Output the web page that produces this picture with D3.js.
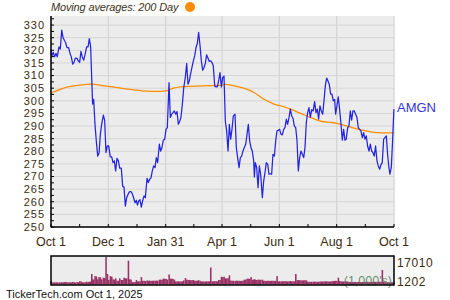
<!DOCTYPE html>
<html><head><meta charset="utf-8">
<script src="https://cdn.jsdelivr.net/npm/d3@7"></script>
<style>body{margin:0;background:#fff}svg{display:block}text{font-family:"Liberation Sans",Arial,sans-serif}</style>
</head><body><svg id="c" width="450" height="300"></svg>
<script>
// Days since Oct 1, 2024
const days = [0,1,2.5,3.9,5.3,6.7,8.5,9.9,11.4,12.8,14.2,15.6,17,18.8,20.2,21.6,23.1,24.5,25.9,27.7,29.1,30.5,31.9,33.3,34.8,36.2,37.9,39.4,40.8,42.2,43.3,44.3,45.4,46.8,48.2,49.7,51.1,52.5,53.9,55.7,57.1,58.5,60,61.4,63.1,64.6,66,67.4,68.8,70.2,71.7,73.1,74.8,76.3,77.7,79.1,80.5,82.3,83.7,85.1,86.5,87.9,89.4,90.8,92,93.3,94.7,96.1,97.5,99,100.4,102.2,103.6,105,106.4,107.8,109.2,110.7,112.1,113.5,115.3,116.7,118.1,119.5,121,122.4,123.8,125.6,127,128.4,129.8,131.2,132.7,134.1,135.5,136.9,138.3,139.8,141.2,143,144.4,145.8,147.2,148.6,150,151.5,152.9,154.3,155.7,157.1,158.6,160,161.4,162.8,164.2,165.6,167.1,168.5,169.9,171.3,172.7,174.2,175.6,177,178.4,179.8,181.3,182.7,184.1,185.5,186.9,188.4,189.8,191.2,192.6,194,195.8,197.2,198.6,200.1,201.5,202.9,204.3,205.7,207.2,208.6,210,211.4,212.8,214.2,215.7,216.4,217.4,218.9,220.3,221.7,223.1,224.9,226.3,227.7,229.1,230.6,232,233.4,234.8,236.2,237.7,239.1,240.5,241.9,243.3,244.8,246.2,247.6,249,250.4,251.8,253.3,254.7,256.1,257.5,258.9,260.4,261.8,263.2,264.6,266,267.5,268.9,270.3,271.7,273.1,274.5,276,277.4,279.1,280.5,282,283.4,284.8,286.2,287.6,289.1,290.5,291.9,293.3,294.7,296.1,297.6,299,300.4,301.8,302.9,304.3,305.7,307.1,308.6,310,311.4,312.8,314.2,315.7,317.1,318.5,319.9,321.3,322.7,324.2,325.6,327,328.4,329.8,331.3,332.7,334.1,335.5,336.9,338.4,339.8,341.2,342.6,344,345.4,346.9,348.3,349.7,351.1,352.5,354,355.4,356.8,358.2,359.6,360.7,362.1,363.5,364.9];
const prices = [320.1,317.8,319.2,317.4,318.8,317.4,321.4,320.5,328,325.1,324,323,321.1,321.1,318.8,317.4,314.5,315.2,316.9,316.8,315.8,315.2,319.6,317.4,316.1,318.2,321.4,321.4,324.6,321.4,309.2,298.7,300.6,290.7,284.1,278.1,279.1,286.7,290.7,294.3,292.3,279.5,282.1,282.1,277.8,277.8,275.5,276.2,272.2,277.2,276.2,273.3,273.3,266.1,265.8,258.3,261.6,263.2,264,264,263.2,261.6,259.6,260.6,258.7,260.3,260.8,257.9,260.3,262.3,261.6,269.3,267.6,268.9,269.5,272.2,274.2,273.5,277.5,275.5,282.8,280.1,281.5,284.4,284.8,288.7,289.4,307.2,293.4,294.7,295.3,296,294.7,295.7,290.7,291.8,293.4,298.7,305,309.5,314.8,306.6,307.9,310.8,313.2,315.8,317.8,321.1,322.7,327.1,321.8,315.8,312.1,313.2,314.8,318.2,316.9,315.6,315.8,315.2,313.9,305.9,305.5,305.5,307.9,311.2,305.5,309.2,309.8,292,288.1,280.1,290.7,284.8,288.7,294,294.7,281.5,277.5,273.5,277.5,278.1,280.1,281.5,282.8,286.7,290.7,284.1,281.5,280.1,276.2,269.8,275.5,273.5,265.6,274.2,270.9,261.6,268.2,271.5,275.5,274.8,270.9,271.1,270.9,278.8,278.1,284.1,288.1,288.3,288.7,286.7,286.5,288.7,289.4,292.7,290.7,293.4,296.7,294,293.1,290.1,289.4,284.1,272.2,277.5,280.1,278.8,277.5,281.5,291.4,295.3,297.3,293.4,296.5,296,299.7,295.3,296.7,292.7,298,296,294.7,300,305.9,309,307.9,306.6,302.6,302.6,300,300.6,294.7,298,301.6,296.7,290.7,284.4,288.7,284.4,284.8,289.4,290.1,296,292.3,296,296,294.7,293.4,289.4,288.7,288.1,285.4,287.4,284.8,286.1,282.1,280.1,282.8,280.1,279.5,278.1,282.1,276.2,274.2,272.9,274.6,275.5,284.8,285.4,286.1,278.8,273.5,270.9,273.5,284.1,296.7];
const volumes = [2100,1300,1300,1200,1400,1300,1300,1250,1400,1300,1500,1600,1400,1300,1400,1300,1600,1400,1300,1500,1400,2000,1900,1400,1300,1400,1700,1600,1700,1800,6500,3200,3000,5200,5000,3200,4600,4400,3200,4200,4000,17010,6500,2800,5200,4800,3200,3000,3800,2300,2300,3800,2800,2800,4200,3800,3800,14700,3200,3000,1500,1400,1600,2800,1900,1900,2000,4600,2300,2300,2200,2500,2300,2400,2200,2300,2400,2200,2500,2300,3000,3000,2900,3600,3600,3400,3000,6200,3600,3600,3400,3000,1900,1900,2000,1800,1900,2000,2500,4000,3000,2800,2800,2600,2800,2800,2300,2300,2400,2600,2300,1900,1900,1800,1900,1900,1900,2000,10500,2000,2000,2100,2000,2000,2800,2800,4800,4500,4800,3800,3800,3800,5700,2400,2300,2300,2200,2400,2300,2300,2200,2300,2300,3000,3000,3600,3600,3400,4600,3000,3000,3200,3000,2800,3000,3000,2900,3000,2300,2300,2200,2300,2300,2200,2300,2300,2200,2300,5200,2000,2000,1900,2000,2000,2100,2000,1900,2000,2100,2000,1900,2000,6500,2600,2800,2600,2600,2500,2600,2600,2600,1700,1700,1600,1700,1700,1800,1700,1600,1700,1800,1900,1900,1800,2000,1900,1900,1800,1900,2000,2200,2200,2300,2200,4200,2200,1900,1900,1800,1900,1900,1800,1600,1600,1500,1600,1500,1600,1500,1600,1600,1500,1600,1500,1600,1500,1700,1600,1500,1600,1600,1700,1600,1700,1600,1700,1600,9000,1600,1400,1400,1300,1400,1300,1300,1400,1300];
const maDays = [0,7.5,18,30.5,43,48,59,71,82,92,101,112,122,129.5,140,161,183,185,195,205,216,226.7,237.3,248,255,265.7,278,288.3,299,309.6,320.3,331,341.5,352,365];
const maValues = [303.1,304.2,305.5,306.2,306.6,306.4,305.8,305.2,304.6,304.2,303.8,303.7,303.9,304.9,305.6,305.9,306.2,306.5,305.9,305,303.3,300.6,298.7,297.6,296.7,295,293.1,291.8,291.4,290.6,289.4,288.4,287.6,287.3,287.3];
const xTickDays = [0,61,122,182,243,304,365];
const xTickLabels = ["Oct 1","Dec 1","Jan 31","Apr 1","Jun 1","Aug 1","Oct 1"];
const xMinorDays = [30.5,91.5,152,212.5,273.5,334.5];
const yTicks = [250,255,260,265,270,275,280,285,290,295,300,305,310,315,320,325,330];
const yMinor = [252.5,257.5,262.5,267.5,272.5,277.5,282.5,287.5,292.5,297.5,302.5,307.5,312.5,317.5,322.5,327.5,332.5];
const volLabels = [17010, 1202];
const title = "Moving averages: 200 Day";
const symbol = "AMGN";
const footer = "TickerTech.com  Oct 1, 2025";

const svg = d3.select("#c");
const L = 51, R = 394, T = 16, B = 227;
const x = d3.scaleLinear().domain([0,365]).range([L,R]);
const y = d3.scaleLinear().domain([250,333.6]).range([B,T]);
const textCol = "#3b2a0e";

svg.append("rect").attr("x",L).attr("y",T).attr("width",R-L).attr("height",B-T).attr("fill","#ececec");
svg.append("g").selectAll("line").data(yTicks).join("line")
  .attr("x1",L).attr("x2",R).attr("y1",d=>y(d)).attr("y2",d=>y(d))
  .attr("stroke","#d6d6d6").attr("stroke-width",1);
svg.append("g").selectAll("line").data(xTickDays).join("line")
  .attr("x1",d=>x(d)).attr("x2",d=>x(d)).attr("y1",T).attr("y2",B)
  .attr("stroke","#d6d6d6").attr("stroke-width",1.3);

svg.append("path").datum(maDays.map((d,i)=>[d,maValues[i]]))
  .attr("d",d3.line().x(d=>x(d[0])).y(d=>y(d[1])).curve(d3.curveMonotoneX))
  .attr("fill","none").attr("stroke","#ff8c00").attr("stroke-width",1.3);
svg.append("path").datum(days.map((d,i)=>[d,prices[i]]))
  .attr("d",d3.line().x(d=>x(d[0])).y(d=>y(d[1])))
  .attr("fill","none").attr("stroke","#2424e0").attr("stroke-width",1.25).attr("stroke-linejoin","round");

svg.append("line").attr("x1",L).attr("x2",L).attr("y1",T).attr("y2",B+0.5).attr("stroke","#000").attr("stroke-width",1.5);
svg.append("line").attr("x1",L).attr("x2",R).attr("y1",B).attr("y2",B).attr("stroke","#000").attr("stroke-width",1.5);
svg.append("g").selectAll("line").data(yTicks.concat(yMinor)).join("line")
  .attr("x1",L).attr("x2",L+3).attr("y1",d=>y(d)).attr("y2",d=>y(d)).attr("stroke","#000").attr("stroke-width",1);
svg.append("g").selectAll("line").data(xTickDays.concat(xMinorDays)).join("line")
  .attr("x1",d=>x(d)).attr("x2",d=>x(d)).attr("y1",B).attr("y2",B-3).attr("stroke","#000").attr("stroke-width",1);

svg.append("g").selectAll("text").data(yTicks).join("text")
  .attr("x",L-6).attr("y",d=>y(d)).attr("dy","0.35em").attr("text-anchor","end")
  .attr("font-size",11).attr("letter-spacing",1).attr("fill",textCol).text(d=>d);
svg.append("g").selectAll("text").data(xTickDays).join("text")
  .attr("x",d=>x(d)).attr("y",241.5).attr("dy","0.35em").attr("text-anchor","middle")
  .attr("font-size",12.5).attr("fill",textCol).text((d,i)=>xTickLabels[i]);

svg.append("text").attr("x",L).attr("y",7.5).attr("dy","0.35em").attr("font-size",11).attr("letter-spacing",-0.15).attr("font-style","italic")
  .attr("fill","#3b3322").text(title);
svg.append("circle").attr("cx",190).attr("cy",7).attr("r",5).attr("fill","#ff8c00");

svg.append("text").attr("x",397).attr("y",y(prices[prices.length-1])-2).attr("dy","0.35em")
  .attr("font-size",13).attr("fill","#3333dd").text(symbol);

const vT = 256, vB = 285;
const vy = d3.scaleLinear().domain([0,17010]).range([vB-0.5, vT+1]);
svg.append("rect").attr("x",L).attr("y",vT).attr("width",R-L).attr("height",vB-vT).attr("fill","#ececec");
const bw = x(1.45)-x(0);
svg.append("g").selectAll("rect").data(days).join("rect")
  .attr("x",(d)=>x(d)-bw/2).attr("width",bw+0.2)
  .attr("y",(d,i)=>vy(volumes[i])).attr("height",(d,i)=>vy(0)-vy(volumes[i]))
  .attr("fill","#993366");
svg.append("text").attr("x",392).attr("y",280.5).attr("dy","0.35em").attr("text-anchor","end")
  .attr("font-size",12.5).attr("fill","#4f7a5a").attr("fill-opacity",0.85).text("(1,000's)");
svg.append("rect").attr("x",L).attr("y",vT).attr("width",R-L).attr("height",vB-vT).attr("fill","none")
  .attr("stroke","#000").attr("stroke-width",1.5);
svg.append("g").selectAll("text").data(volLabels).join("text")
  .attr("x",397).attr("y",(d,i)=>i===0?262.5:281.5).attr("dy","0.35em")
  .attr("font-size",12).attr("letter-spacing",0.6).attr("fill",textCol).text(d=>d);

svg.append("text").attr("x",6).attr("y",294).attr("dy","0.35em").attr("font-size",11)
  .attr("fill","#111").text(footer);
</script></body></html>
